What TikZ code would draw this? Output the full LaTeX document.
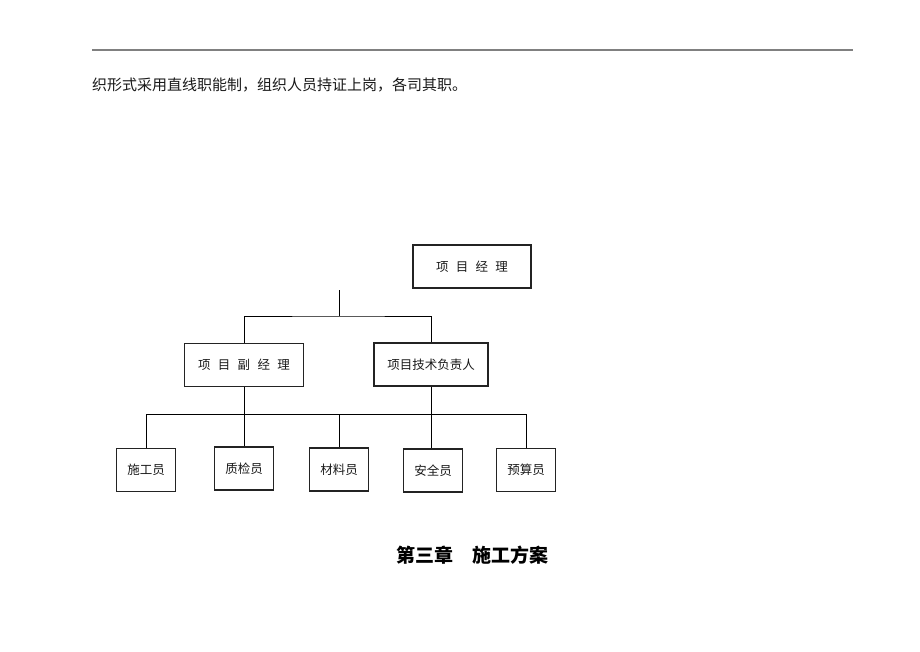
\documentclass[tikz,border=0pt]{standalone}
\usepackage{fontspec}
\newfontfamily\cjk[WordSpace=2.6]{Noto Sans CJK SC}
\usepackage{tikz}
\usetikzlibrary{positioning}
\definecolor{rulegray}{RGB}{128, 128, 128}
\definecolor{boxline}{RGB}{35, 35, 35}
\definecolor{textcolor}{RGB}{25, 25, 25}
\tikzset{
  post/.style={draw=boxline, line width=1.1pt, inner sep=0pt, minimum height=43pt, text=textcolor, font=\cjk\fontsize{12.5}{14}\selectfont},
  staff/.style={post, minimum width=59pt},
  link/.style={line width=0.9pt, black}
}

\begin{document}
\begin{tikzpicture}[x=1pt, y=-1pt]
        \useasboundingbox (0,0) rectangle (920,651);
        % Page header
        \draw[rulegray, line width=1.5pt] (92,50) -- (853,50);
        \node[anchor=west, inner sep=0pt, text=textcolor, font=\cjk\fontsize{15}{18}\selectfont] (intro) at (92,85) {织形式采用直线职能制，组织人员持证上岗，各司其职。};
        
        % Management boxes
        \node[post, minimum width=118pt] (pm) at (472,266.5) {项 目 经 理};
        \node[post, minimum width=119pt] (dpm) at (244,365) {项 目 副 经 理};
        \node[post, minimum width=114pt] (tech) at (431,364.5) {项目技术负责人};
        
        % Staff boxes
        \node[staff] (s1) at (146,470) {施工员};
        \node[staff] (s2) at (244,468.5) {质检员};
        \node[staff] (s3) at (339,469.5) {材料员};
        \node[staff] (s4) at (433,470.5) {安全员};
        \node[staff] (s5) at (526,470) {预算员};
        
        % Upper links
        \coordinate (trunk) at (339,290);
        \coordinate (split) at (339,316);
        \draw[link] (trunk) -- (split);
        \draw[link] (dpm.north) |- (split) -| (tech.north);
        
        % Lower links
        \coordinate (bus) at (146,414);
        \draw[link] (dpm.south) -- (s2.north);
        \draw[link] (tech.south) -- (tech.south |- s4.north);
        \draw[link] (s1.north) -- (bus) -| (s5.north);
        \draw[link] (s3.north) -- (s3.north |- bus);
        
        % Chapter title
        \node[font=\cjk\bfseries\fontsize{19}{22}\selectfont] (chapter) at (472,555) {第三章　施工方案};
    \end{tikzpicture}
\end{document}
